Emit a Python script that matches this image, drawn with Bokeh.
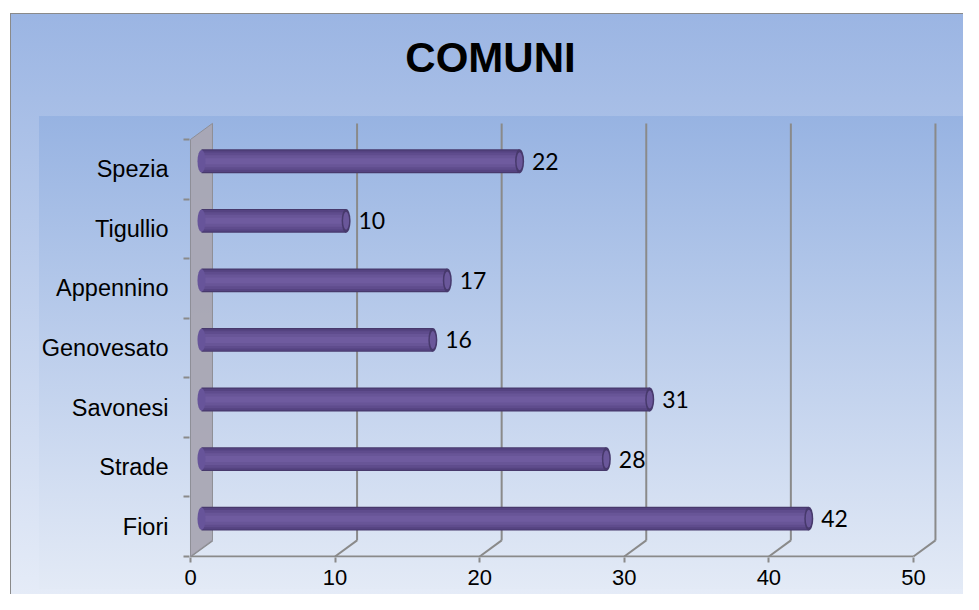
from bokeh.plotting import figure
from bokeh.models import FixedTicker, Label
from bokeh.core.properties import value
from bokeh.embed import file_html
from bokeh.resources import INLINE

# ---- data ----
categories = ["Fiori", "Strade", "Savonesi", "Genovesato", "Appennino", "Tigullio", "Spezia"]
values = [42, 28, 31, 16, 17, 10, 22]
x_ticks = [0, 10, 20, 30, 40, 50]
title_text = "COMUNI"

# ---- 3D depth offsets (data units) ----
DX = 1.52
DY = 0.27
n = len(categories)
ypos = list(range(n))
floor = -0.5
top = n - 0.5

p = figure(width=963, height=594, x_range=(-0.069, 53.46), y_range=(-0.5168, 8.833),
           output_backend="svg", toolbar_location=None, title=None,
           min_border_left=189, min_border_right=0, min_border_top=0, min_border_bottom=37)
p.background_fill_alpha = 0
p.border_fill_alpha = 0
p.outline_line_color = None
p.xgrid.grid_line_color = None
p.ygrid.grid_line_color = None
p.styles = {
    "background-image": ("linear-gradient(#97B3E2, #E3EAF6), "
                         "linear-gradient(#8A8A8A, #8A8A8A), "
                         "linear-gradient(#8A8A8A, #8A8A8A), "
                         "linear-gradient(#9BB5E3, #E7EDF8)"),
    "background-position": "39px 116px, 10px 13px, 10px 13px, 10px 13px",
    "background-size": "925px 473px, 1px 597px, 969px 1px, 969px 597px",
    "background-repeat": "no-repeat",
}

grid_col = "#8A8A8A"
# back wall gridlines
bx = [t + DX for t in x_ticks[1:]]
p.segment(x0=bx, y0=[floor + DY] * len(bx), x1=bx, y1=[top + DY] * len(bx),
          line_color=grid_col, line_width=2)
# floor diagonals
p.segment(x0=x_ticks, y0=[floor] * len(x_ticks), x1=[t + DX for t in x_ticks],
          y1=[floor + DY] * len(x_ticks), line_color=grid_col, line_width=2)
# front floor edge
p.segment(x0=[x_ticks[0]], y0=[floor], x1=[x_ticks[-1]], y1=[floor],
          line_color=grid_col, line_width=2)
# side wall
p.patch(x=[0, DX, DX, 0], y=[floor, floor + DY, top + DY, top],
        fill_color="#A9A7B3", fill_alpha=0.95, line_color="#8E8E96", line_width=1)

# ---- cylinder bars ----
yc = [y + DY / 2 for y in ypos]
x0 = DX / 2
x1 = [v + DX / 2 for v in values]
layers = [(0.40, "#47396C"), (0.36, "#554381"), (0.29, "#5F4C8D"),
          (0.20, "#685597"), (0.10, "#6F5B9F")]
for h, c in layers:
    p.hbar(y=yc, left=x0, right=x1, height=h, fill_color=c, line_color=None)
# left end
p.ellipse(x=[x0] * n, y=yc, width=8, width_units="screen", height=0.38,
          fill_color="#67549A", line_color=None)
# right cap
p.ellipse(x=x1, y=yc, width=9, width_units="screen", height=0.40,
          fill_color="#47396C", line_color=None)
p.ellipse(x=x1, y=yc, width=6, width_units="screen", height=0.30,
          fill_color="#6A579A", line_color=None)

# data labels
p.text(x=[v + DX / 2 + 0.86 for v in values], y=yc, text=[str(v) for v in values],
       text_font=value("Lato"), text_font_size="23px", text_color="black",
       text_baseline="middle", text_align="left")

# ---- axes ----
p.xaxis.ticker = FixedTicker(ticks=x_ticks)
p.xaxis.axis_line_color = None
p.xaxis.major_tick_line_color = grid_col
p.xaxis.major_tick_line_width = 2
p.xaxis.major_tick_out = 5
p.xaxis.major_tick_in = 0
p.xaxis.minor_tick_line_color = None
p.xaxis.major_label_text_font = "Liberation Sans"
p.xaxis.major_label_text_font_size = "22px"
p.xaxis.major_label_text_color = "black"
p.xaxis.major_label_standoff = 7

p.yaxis.ticker = FixedTicker(ticks=ypos, minor_ticks=[y - 0.5 for y in ypos] + [top])
p.yaxis.major_label_overrides = {i: c for i, c in enumerate(categories)}
p.yaxis.axis_line_color = None
p.yaxis.major_tick_line_color = None
p.yaxis.major_tick_out = 6
p.yaxis.major_tick_in = 0
p.yaxis.minor_tick_line_color = grid_col
p.yaxis.minor_tick_line_width = 2
p.yaxis.minor_tick_out = 6
p.yaxis.minor_tick_in = 0
p.yaxis.major_label_text_font = "Liberation Sans"
p.yaxis.major_label_text_font_size = "23.5px"
p.yaxis.major_label_text_color = "black"
p.yaxis.major_label_standoff = 15

# title
p.add_layout(Label(x=20.75, y=7.87, text=title_text, text_font="Liberation Sans",
                   text_font_style="bold", text_font_size="42px", text_color="black",
                   text_align="center", text_baseline="middle"))

open("out.html", "w").write(file_html(p, INLINE))
